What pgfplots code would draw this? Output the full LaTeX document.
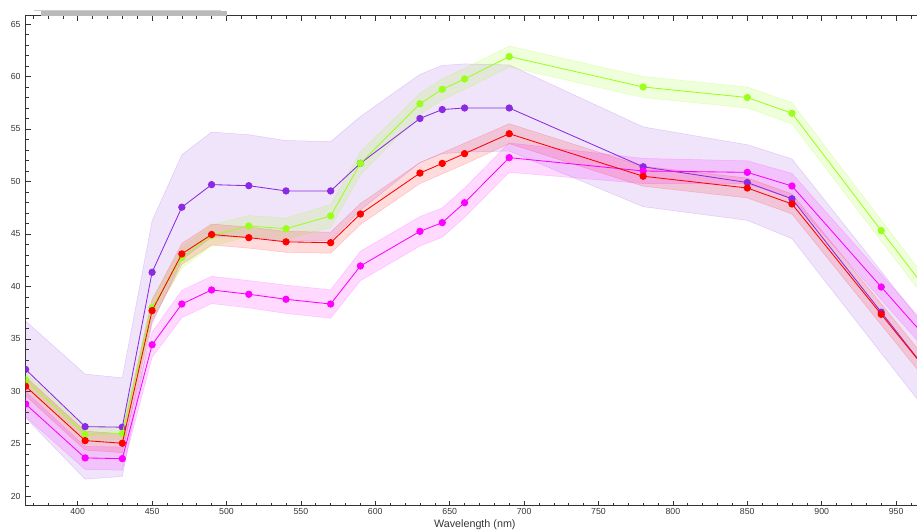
\documentclass[border=0pt]{standalone}
\usepackage{fontspec}
\setmainfont{Liberation Sans}
\usepackage{pgfplots}
\usepackage{pgfplotstable}
\pgfplotsset{compat=1.18}
\usepgfplotslibrary{fillbetween}

\definecolor{cpur}{RGB}{138,43,226}
\definecolor{cgrn}{RGB}{155,255,30}
\definecolor{cred}{RGB}{255,0,0}
\definecolor{cmag}{RGB}{255,0,255}
\definecolor{txt}{RGB}{55,55,55}

\pgfplotstableread{
x y lo hi
365 32.10 27.50 36.70
405 26.65 21.65 31.65
430 26.60 21.90 31.30
450 41.35 36.45 46.25
470 47.55 42.55 52.55
490 49.70 44.70 54.70
515 49.60 44.75 54.45
540 49.10 44.30 53.90
570 49.10 44.40 53.80
590 51.73 47.28 56.18
630 56.00 51.80 60.20
645 56.85 52.65 61.05
660 57.00 52.80 61.20
690 57.00 52.90 61.10
780 51.40 47.60 55.20
850 49.90 46.30 53.50
880 48.35 44.55 52.15
940 37.55 33.65 41.45
1000 26.70 22.80 30.60
}\purpledata

\pgfplotstableread{
x y lo hi
365 31.10 30.40 31.80
405 25.92 25.32 26.52
430 26.00 25.40 26.60
450 37.98 37.08 38.88
470 42.75 41.75 43.75
490 44.85 43.85 45.85
515 45.76 44.76 46.76
540 45.50 44.50 46.50
570 46.72 45.62 47.82
590 51.73 50.63 52.83
630 57.40 56.40 58.40
645 58.78 57.78 59.78
660 59.76 58.76 60.76
690 61.90 60.90 62.90
780 59.00 58.00 60.00
850 58.00 57.00 59.00
880 56.50 55.50 57.50
940 45.32 44.32 46.32
1000 34.20 33.20 35.20
}\greendata

\pgfplotstableread{
x y lo hi
365 30.50 29.60 31.40
405 25.32 24.42 26.22
430 25.07 24.17 25.97
450 37.70 36.70 38.70
470 43.10 42.10 44.10
490 44.95 43.95 45.95
515 44.65 43.65 45.65
540 44.25 43.25 45.25
570 44.17 43.17 45.17
590 46.90 45.90 47.90
630 50.80 49.80 51.80
645 51.72 50.72 52.72
660 52.65 51.65 53.65
690 54.55 53.60 55.50
780 50.50 49.55 51.45
850 49.38 48.43 50.33
880 47.86 46.91 48.81
940 37.35 36.35 38.35
1000 26.85 25.85 27.85
}\reddata

\pgfplotstableread{
x y lo hi
365 28.80 27.60 30.00
405 23.67 22.57 24.77
430 23.60 22.50 24.70
450 34.45 33.25 35.65
470 38.33 37.03 39.63
490 39.67 38.37 40.97
515 39.26 37.96 40.56
540 38.78 37.43 40.13
570 38.33 36.98 39.68
590 41.95 40.55 43.35
630 45.25 43.85 46.65
645 46.08 44.68 47.48
660 47.98 46.58 49.38
690 52.27 50.87 53.67
780 51.00 49.80 52.20
850 50.87 49.77 51.97
880 49.57 48.37 50.77
940 39.95 38.75 41.15
1000 30.35 29.15 31.55
}\magentadata

\begin{document}
\begin{tikzpicture}
\fill[black!27] (41bp,516.3bp) rectangle (227bp,521.3bp);
\draw[black!20, line width=0.8bp] (34bp,521.7bp) -- (221bp,521.7bp);
\begin{axis}[
  at={(25.6bp,26.3bp)}, anchor=south west,
  scale only axis, width=944.9bp, height=490bp,
  xmin=365, xmax=1000, ymin=19.12, ymax=65.79,
  xtick={400,450,...,950}, ytick={20,25,...,65},
  minor xtick={370,380,...,990}, minor y tick num=4,
  major tick length=5bp, minor tick length=3bp,
  tick align=inside,
  tick style={black!80, line width=0.6bp},
  axis line style={black!80, line width=0.9bp},
  /pgf/number format/assume math mode=true,
  /pgf/number format/1000 sep={},
  ticklabel style={font=\fontsize{8.8}{10}\selectfont, text=txt},
  yticklabel style={xshift=-1.5bp},
  xticklabel style={yshift=0.5bp},
  xlabel={Wavelength (nm)},
  xlabel style={font=\fontsize{10.8}{12}\selectfont, text=txt, at={(ticklabel cs:0.4754)}, anchor=near ticklabel, yshift=2.5bp},
  clip marker paths=true,
  every axis plot/.append style={line width=0.85bp},
]
% bands
\addplot[name path=puH, draw=cpur, draw opacity=0.2, line width=0.5bp, forget plot] table[x=x,y=hi]{\purpledata};
\addplot[name path=puL, draw=cpur, draw opacity=0.2, line width=0.5bp, forget plot] table[x=x,y=lo]{\purpledata};
\addplot[fill=cpur, fill opacity=0.13, draw=none, forget plot] fill between[of=puH and puL];

\addplot[name path=grH, draw=cgrn, draw opacity=0.25, line width=0.5bp, forget plot] table[x=x,y=hi]{\greendata};
\addplot[name path=grL, draw=cgrn, draw opacity=0.25, line width=0.5bp, forget plot] table[x=x,y=lo]{\greendata};
\addplot[fill=cgrn, fill opacity=0.16, draw=none, forget plot] fill between[of=grH and grL];

\addplot[name path=reH, draw=cred, draw opacity=0.18, line width=0.5bp, forget plot] table[x=x,y=hi]{\reddata};
\addplot[name path=reL, draw=cred, draw opacity=0.18, line width=0.5bp, forget plot] table[x=x,y=lo]{\reddata};
\addplot[fill=cred, fill opacity=0.14, draw=none, forget plot] fill between[of=reH and reL];

\addplot[name path=maH, draw=cmag, draw opacity=0.18, line width=0.5bp, forget plot] table[x=x,y=hi]{\magentadata};
\addplot[name path=maL, draw=cmag, draw opacity=0.18, line width=0.5bp, forget plot] table[x=x,y=lo]{\magentadata};
\addplot[fill=cmag, fill opacity=0.15, draw=none, forget plot] fill between[of=maH and maL];

% lines
\addplot[cpur, mark=*, mark size=3.2bp, mark options={fill=cpur, draw=none}] table[x=x,y=y]{\purpledata};
\addplot[cgrn, mark=*, mark size=3.2bp, mark options={fill=cgrn, draw=none}] table[x=x,y=y]{\greendata};
\addplot[cmag, mark=*, mark size=3.2bp, mark options={fill=cmag, draw=none}] table[x=x,y=y]{\magentadata};
\addplot[cred, mark=*, mark size=3.2bp, mark options={fill=cred, draw=none}] table[x=x,y=y]{\reddata};
\end{axis}
\pgfresetboundingbox
\useasboundingbox (0,0) rectangle (917bp,532bp);
\end{tikzpicture}
\end{document}
